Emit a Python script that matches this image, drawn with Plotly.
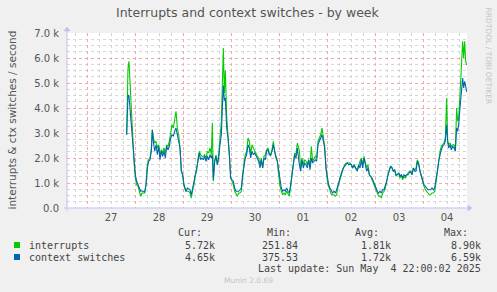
import numpy as np
import pandas as pd
import plotly.graph_objects as go

# ---- data (hours since 2025-04-27 00:00, values in thousands / second) ----
hours = [
    19.83, 20.5, 21.0, 21.5, 22.17, 22.83, 23.5, 24.17, 24.83, 25.5, 26.17, 26.83, 27.5, 28.17, 28.83,
    29.5, 30.17, 30.83, 31.5, 32.17, 32.67, 33.17, 33.83, 34.5, 35.17, 35.83, 36.5, 37.17, 37.83, 38.5,
    39.17, 39.83, 40.5, 41.17, 41.83, 42.5, 43.17, 43.83, 44.5, 45.17, 45.83, 46.5, 47.17, 47.83, 48.5,
    49.5, 50.17, 50.83, 51.5, 52.17, 52.83, 53.5, 54.17, 54.83, 55.5, 56.17, 56.83, 57.5, 58.17, 58.83,
    59.5, 60.17, 60.83, 61.5, 62.17, 62.67, 63.17, 63.83, 64.5, 65.17, 65.83, 66.5, 67.17, 67.67, 68.17,
    68.67, 69.17, 69.83, 70.5, 71.17, 71.83, 72.5, 73.17, 73.83, 74.5, 75.17, 75.83, 76.5, 77.17, 77.83,
    78.5, 79.17, 79.83, 80.5, 81.17, 81.83, 82.5, 83.17, 83.83, 84.5, 85.17, 85.83, 86.5, 87.17, 87.83,
    88.5, 89.17, 89.83, 90.5, 91.17, 91.83, 92.5, 93.17, 93.83, 94.5, 95.17, 95.83, 96.5, 97.17, 97.83,
    98.5, 99.17, 99.83, 100.5, 101.17, 101.83, 102.5, 103.17, 103.83, 104.5, 105.17, 106.17, 106.83, 107.5, 108.17,
    108.83, 109.5, 110.17, 110.83, 111.5, 112.17, 112.83, 113.5, 114.17, 114.83, 115.5, 116.17, 116.83, 117.5, 118.17,
    118.83, 119.5, 120.17, 120.83, 121.5, 122.17, 122.83, 123.5, 124.17, 124.83, 125.5, 126.17, 126.83, 127.5, 128.17,
    128.83, 129.5, 130.17, 130.83, 131.5, 132.17, 132.83, 133.5, 134.17, 135.17, 135.83, 136.5, 137.17, 137.83, 138.5,
    139.17, 139.83, 140.5, 141.17, 141.83, 142.5, 143.17, 143.83, 144.5, 145.17, 145.83, 146.5, 147.17, 147.83, 148.5,
    149.17, 149.83, 150.5, 151.17, 151.83, 152.5, 153.17, 153.83, 154.5, 155.17, 155.83, 156.5, 157.17, 157.83, 158.5,
    159.17, 159.83, 160.5, 161.17, 161.83, 162.5, 163.17, 163.83, 164.5, 165.17, 165.83, 166.5, 167.17, 167.83, 168.5,
    169.17, 169.83, 170.5, 171.17, 171.83, 172.5, 173.17, 173.83, 174.5, 175.17, 175.83, 176.5, 177.17, 177.83, 178.5,
    179.17, 179.83, 180.33, 180.83, 181.5, 182.17, 182.83, 183.5, 184.17, 184.83, 185.33, 185.83, 186.5, 187.17, 187.83,
    188.33, 188.83, 189.33, 189.83,
]

context_switches_k = [
    2.93, 4.53, 4.47, 4.0, 3.47, 2.8, 2.0, 1.33, 1.07, 0.93, 0.8, 0.67, 0.69, 0.67, 0.64,
    0.93, 1.6, 1.87, 1.93, 2.27, 3.13, 2.67, 2.27, 2.53, 2.13, 2.47, 1.93, 2.27, 2.07, 2.27,
    2.0, 2.47, 2.33, 2.47, 2.8, 2.93, 2.87, 3.07, 3.2, 2.93, 2.67, 2.4, 1.47, 1.33, 0.93,
    0.67, 0.8, 0.77, 0.73, 0.53, 0.8, 0.93, 1.27, 1.47, 1.87, 2.2, 1.93, 2.0, 1.93, 2.07,
    1.87, 2.07, 1.93, 2.13, 2.0, 2.13, 1.13, 1.87, 2.07, 1.73, 2.0, 2.53, 2.93, 4.0, 4.9,
    4.3, 4.4, 3.2, 2.8, 2.13, 1.2, 1.13, 1.07, 0.8, 0.67, 0.67, 0.67, 0.73, 0.8, 1.33,
    1.73, 2.0, 2.13, 2.53, 2.4, 2.0, 2.27, 2.13, 2.2, 2.07, 1.93, 1.87, 1.6, 1.93, 1.6,
    2.0, 1.93, 2.27, 2.33, 2.13, 2.13, 2.27, 2.53, 2.2, 2.0, 1.87, 1.47, 1.0, 0.8, 0.67,
    0.73, 0.67, 0.8, 0.67, 0.6, 0.93, 1.33, 1.87, 2.13, 2.0, 2.4, 1.73, 1.47, 1.93, 1.6,
    1.8, 1.73, 1.6, 1.93, 1.53, 2.0, 1.8, 1.87, 1.93, 1.87, 2.53, 2.67, 2.8, 2.93, 2.67,
    2.4, 1.6, 1.13, 0.93, 0.8, 0.67, 0.6, 0.67, 0.6, 0.73, 0.93, 1.07, 1.27, 1.47, 1.6,
    1.67, 1.73, 1.8, 1.73, 1.76, 1.73, 1.6, 1.73, 1.6, 1.47, 1.73, 1.6, 1.93, 1.6, 2.0,
    1.73, 1.47, 1.6, 1.33, 1.27, 1.2, 1.07, 0.93, 0.73, 0.67, 0.6, 0.67, 0.6, 0.73, 0.73,
    0.87, 1.07, 1.33, 1.53, 1.67, 1.6, 1.47, 1.53, 1.33, 1.33, 1.4, 1.27, 1.33, 1.2, 1.33,
    1.27, 1.33, 1.33, 1.4, 1.47, 1.33, 1.6, 1.47, 1.47, 1.87, 1.73, 1.47, 1.27, 1.07, 0.93,
    0.87, 0.8, 0.73, 0.73, 0.73, 0.8, 0.73, 0.8, 1.07, 1.47, 1.87, 2.13, 2.33, 2.47, 2.53,
    2.67, 3.33, 2.67, 2.4, 2.53, 2.33, 2.47, 2.4, 2.27, 3.2, 3.07, 3.33, 4.0, 4.53, 5.2,
    4.8, 5.07, 4.87, 4.65,
]

interrupts_k = [
    2.93, 5.6, 5.87, 5.2, 4.13, 2.93, 1.87, 1.2, 0.93, 0.87, 0.67, 0.47, 0.6, 0.6, 0.6,
    0.93, 1.73, 1.93, 2.0, 2.4, 3.13, 2.8, 2.6, 2.67, 2.4, 2.53, 2.13, 2.33, 2.2, 2.4,
    2.2, 2.53, 2.47, 2.67, 2.93, 3.33, 3.2, 3.47, 3.87, 3.2, 2.93, 2.4, 1.47, 1.33, 0.87,
    0.67, 0.67, 0.67, 0.6, 0.4, 0.73, 0.93, 1.33, 1.47, 2.0, 2.27, 2.13, 2.07, 2.07, 2.13,
    2.0, 2.27, 2.2, 2.4, 2.13, 3.4, 1.07, 1.87, 2.13, 1.73, 2.13, 2.8, 3.47, 4.93, 6.4,
    4.6, 5.5, 3.7, 3.07, 2.13, 1.2, 1.07, 0.93, 0.67, 0.53, 0.47, 0.6, 0.6, 0.67, 1.27,
    1.8, 2.13, 2.27, 2.8, 2.67, 2.13, 2.53, 2.4, 2.27, 2.13, 2.07, 2.0, 1.73, 2.0, 1.6,
    2.07, 2.13, 2.33, 2.4, 2.2, 2.07, 2.33, 2.67, 2.27, 2.07, 1.87, 1.33, 0.87, 0.67, 0.53,
    0.6, 0.53, 0.67, 0.53, 0.47, 0.87, 1.4, 1.87, 2.2, 2.13, 2.6, 2.3, 1.6, 2.0, 1.73,
    1.93, 1.87, 1.73, 1.93, 1.67, 2.47, 1.87, 2.0, 2.07, 2.0, 2.67, 2.8, 2.93, 3.2, 2.8,
    2.47, 1.6, 1.07, 0.87, 0.73, 0.53, 0.53, 0.53, 0.47, 0.53, 0.87, 1.07, 1.27, 1.47, 1.6,
    1.73, 1.8, 1.8, 1.8, 1.8, 1.73, 1.6, 1.73, 1.6, 1.53, 1.73, 1.87, 2.0, 1.73, 2.07,
    1.8, 1.6, 1.73, 1.33, 1.27, 1.13, 1.0, 0.8, 0.67, 0.6, 0.47, 0.47, 0.4, 0.6, 0.67,
    0.8, 1.07, 1.33, 1.53, 1.67, 1.63, 1.47, 1.53, 1.27, 1.33, 1.4, 1.2, 1.33, 1.13, 1.27,
    1.2, 1.33, 1.4, 1.47, 1.47, 1.33, 1.6, 1.53, 1.6, 1.93, 1.8, 1.47, 1.27, 1.0, 0.87,
    0.73, 0.67, 0.6, 0.53, 0.53, 0.6, 0.6, 0.67, 1.0, 1.47, 1.93, 2.27, 2.47, 2.53, 2.6,
    2.8, 4.4, 2.67, 2.53, 2.6, 2.47, 2.53, 2.53, 2.33, 4.0, 3.47, 3.6, 4.53, 5.6, 6.67,
    6.0, 6.67, 5.87, 5.72,
]

y_tickvals = [0, 1000, 2000, 3000, 4000, 5000, 6000, 7000]
y_ticktext = ["0.0", "1.0 k", "2.0 k", "3.0 k", "4.0 k", "5.0 k", "6.0 k", "7.0 k"]

series_names = ["interrupts", "context switches"]
series_colors = ["#00CC00", "#0066B3"]
stat_headers = ["Cur:", "Min:", "Avg:", "Max:"]
interrupts_stats = ["5.72k", "251.84", "1.81k", "8.90k"]
context_stats = ["4.65k", "375.53", "1.72k", "6.59k"]

title_text = "Interrupts and context switches - by week"
ytitle_text = "interrupts & ctx switches / second"
last_update = "Last update: Sun May\u00a0\u00a04 22:00:02 2025"
footer_text = "Munin 2.0.69"
side_text = "RRDTOOL / TOBI OETIKER"

# ---- figure ----
W, H = 497, 292
L, R, T, B = 67, 467, 33, 208


def px(x):
    return (x - L) / (R - L)


def py(y):
    return (B - y) / (B - T)


base = pd.Timestamp("2025-04-27 00:00")
times = base + pd.to_timedelta(np.array(hours), unit="h")

fig = go.Figure()
fig.add_trace(go.Scatter(x=times, y=np.array(interrupts_k) * 1000, mode="lines",
                         line=dict(color=series_colors[0], width=1.1), name=series_names[0]))
fig.add_trace(go.Scatter(x=times, y=np.array(context_switches_k) * 1000, mode="lines",
                         line=dict(color=series_colors[1], width=1.1), name=series_names[1]))

axis_col = "#BFBFEF"
major_grid = "#F2A8A8"
minor_grid = "#D6D6D6"
tick_font = dict(family="DejaVu Sans", size=10, color="#555555")

fig.update_layout(
    width=W, height=H,
    margin=dict(l=L, r=W - R, t=T, b=H - B, pad=0),
    paper_bgcolor="#F0F0F0", plot_bgcolor="#FFFFFF",
    showlegend=False,
    xaxis=dict(
        type="date",
        range=["2025-04-26 14:00", "2025-05-04 22:00"],
        tick0="2025-04-27", dtick=86400000,
        ticklabelmode="period", tickformat="%d",
        showgrid=True, gridcolor=major_grid, griddash="dot", gridwidth=1,
        minor=dict(dtick=21600000, tick0="2025-04-27", showgrid=True,
                   gridcolor=minor_grid, griddash="dot", gridwidth=1),
        showline=False, zeroline=False, ticks="",
        ticklabelstandoff=2,
        tickfont=tick_font,
    ),
    yaxis=dict(
        range=[0, 7000],
        tickvals=y_tickvals, ticktext=y_ticktext,
        showgrid=True, gridcolor=major_grid, griddash="dot", gridwidth=1,
        minor=dict(dtick=250, showgrid=True, gridcolor=minor_grid, griddash="dot", gridwidth=1),
        showline=False, zeroline=False,
        ticks="outside", ticklen=5, tickcolor="rgba(0,0,0,0)",
        tickfont=tick_font,
    ),
)

shapes = []
# axes lines with arrows
shapes.append(dict(type="line", xref="paper", yref="paper", x0=px(64), x1=px(468), y0=0, y1=0,
                   line=dict(color=axis_col, width=1)))
shapes.append(dict(type="line", xref="paper", yref="paper", x0=0, x1=0, y0=py(211), y1=py(29),
                   line=dict(color=axis_col, width=1)))
shapes.append(dict(type="path", xref="paper", yref="paper",
                   path=f"M {px(468)} {py(205)} L {px(472)} {py(208)} L {px(468)} {py(211)} Z",
                   fillcolor=axis_col, line=dict(color=axis_col, width=0.5)))
shapes.append(dict(type="path", xref="paper", yref="paper",
                   path=f"M {px(64)} {py(31)} L {px(67)} {py(27)} L {px(70)} {py(31)} Z",
                   fillcolor=axis_col, line=dict(color=axis_col, width=0.5)))
# legend squares
for i, c in enumerate(series_colors):
    yc = 245 + 12 * i
    shapes.append(dict(type="rect", xref="paper", yref="paper",
                       x0=px(14), x1=px(20), y0=py(yc + 3), y1=py(yc - 3),
                       fillcolor=c, line=dict(width=0)))
fig.update_layout(shapes=shapes)

ann = []
ann.append(dict(text=title_text, xref="paper", yref="paper", x=px(248), y=py(13),
                xanchor="center", yanchor="middle", showarrow=False,
                font=dict(family="DejaVu Sans", size=12.5, color="#555555")))
ann.append(dict(text=ytitle_text, xref="paper", yref="paper", x=px(11), y=py(120.5),
                xanchor="center", yanchor="middle", showarrow=False, textangle=-90,
                font=dict(family="DejaVu Sans", size=10.5, color="#555555")))
ann.append(dict(text=side_text, xref="paper", yref="paper", x=px(488.5), y=py(56),
                xanchor="center", yanchor="middle", showarrow=False, textangle=90,
                font=dict(family="DejaVu Sans", size=7.5, color="#C4C4C4")))
mono = dict(family="DejaVu Sans Mono", size=10, color="#444444")
header_right = [204, 293, 381, 470]
value_right = [217.3, 300, 393, 482.7]
for h, xr in zip(stat_headers, header_right):
    ann.append(dict(text=h, xref="paper", yref="paper", x=px(xr), y=py(232.3),
                    xanchor="right", yanchor="middle", showarrow=False, font=mono))
for i, (name, stats) in enumerate(zip(series_names, [interrupts_stats, context_stats])):
    yc = 245 + 12 * i
    ann.append(dict(text=name, xref="paper", yref="paper", x=px(26.5), y=py(yc),
                    xanchor="left", yanchor="middle", showarrow=False, font=mono))
    for s, xr in zip(stats, value_right):
        ann.append(dict(text=s, xref="paper", yref="paper", x=px(xr), y=py(yc),
                        xanchor="right", yanchor="middle", showarrow=False, font=mono))
ann.append(dict(text=last_update, xref="paper", yref="paper", x=px(482.7), y=py(268.5),
                xanchor="right", yanchor="middle", showarrow=False, font=mono))
ann.append(dict(text=footer_text, xref="paper", yref="paper", x=px(248.5), y=py(280.7),
                xanchor="center", yanchor="middle", showarrow=False,
                font=dict(family="DejaVu Sans", size=7.5, color="#C4C4C4")))
fig.update_layout(annotations=ann)

fig.write_html("out.html")
